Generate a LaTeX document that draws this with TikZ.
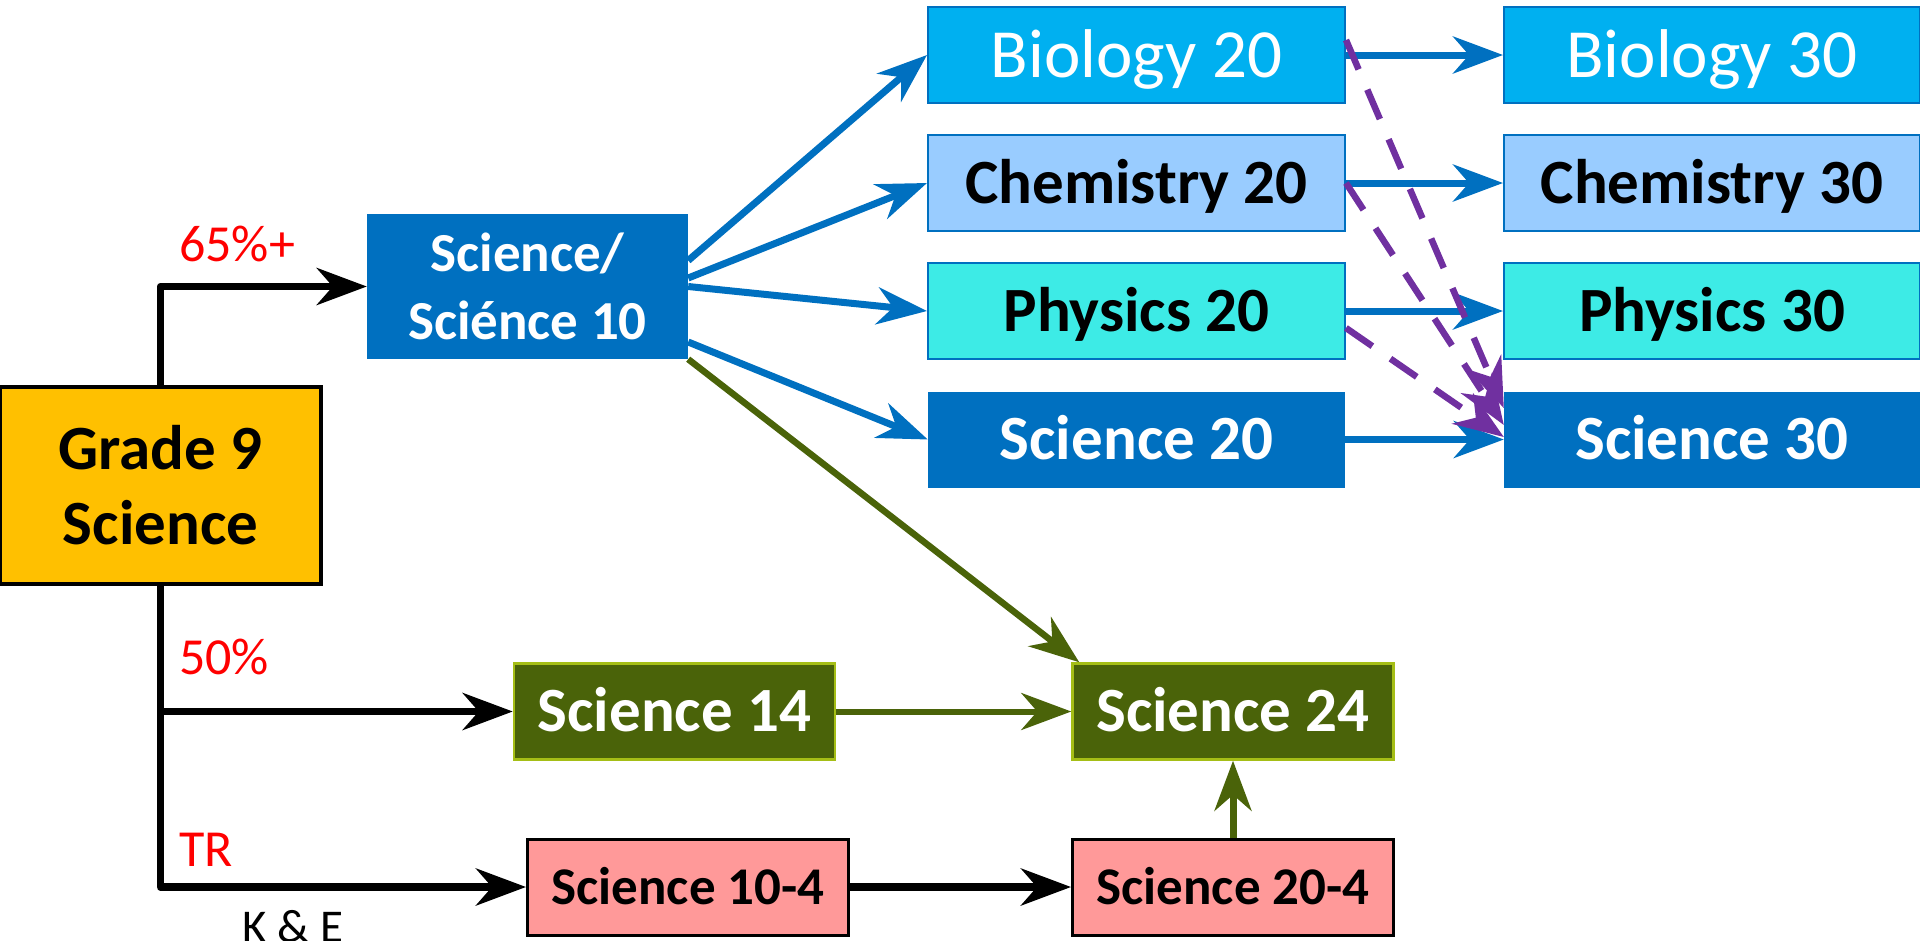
\documentclass[tikz,border=0pt]{standalone}
\usepackage{fontspec}
\setmainfont{Carlito}
\usetikzlibrary{arrows.meta}
\definecolor{gold}{HTML}{FFC000}
\definecolor{deepblue}{HTML}{0070C0}
\definecolor{skyblue}{HTML}{00B0F0}
\definecolor{paleblue}{HTML}{99CCFF}
\definecolor{aqua}{HTML}{3DEBE6}
\definecolor{olive}{HTML}{4A6309}
\definecolor{limeedge}{HTML}{A5BE16}
\definecolor{salmon}{HTML}{FF9999}
\definecolor{purp}{HTML}{7030A0}
\definecolor{lblred}{HTML}{FF0000}

\tikzset{
  >={Stealth[length=50pt,width=37pt,inset=16pt]},
  box/.style={inner sep=0pt, minimum width=321pt, minimum height=96pt, align=center},
  wide/.style={box, minimum width=417pt},
  bigtext/.style={font=\bfseries\fontsize{63}{75}\selectfont, text height=40.5pt, text depth=0pt},
  midtext/.style={font=\bfseries\fontsize{53}{64}\selectfont, text height=34pt, text depth=0pt},
  biotext/.style={font=\fontsize{69}{80}\selectfont, text height=44.5pt, text depth=0pt},
  rimmed/.style={draw=deepblue, line width=2pt},
  pathlbl/.style={font=\fontsize{52}{62}\selectfont, text=lblred, inner sep=0pt, anchor=west,
    text height=33pt, text depth=0pt},
  blackflow/.style={->, line width=7.5pt, line join=round},
  blueflow/.style={->, draw=deepblue, line width=7pt},
  greenflow/.style={->, draw=olive, line width=6.5pt},
  purpleflow/.style={->, draw=purp, line width=6.5pt, dash pattern=on 32pt off 22pt},
}

\begin{document}
\begin{tikzpicture}[x=1pt,y=-1pt]
  \useasboundingbox (0,0) rectangle (1920,940);

  % starting course
  \node[box, draw=black, line width=4pt, fill=gold, minimum height=197pt,
    font=\bfseries\fontsize{63}{75}\selectfont] (grade) at (160.5,485.5) {Grade 9\\Science};

  % stream 1
  \node[box, fill=deepblue, text=white, minimum height=145pt,
    font=\bfseries\fontsize{55}{68}\selectfont] (sci10) at (527.5,286.5) {Science/\\Sciénce 10};
  \node[wide, rimmed, fill=skyblue, text=white, biotext] (bio20) at (1136.5,55) {Biology 20};
  \node[wide, rimmed, fill=paleblue, bigtext] (chem20) at (1136.5,183) {Chemistry 20};
  \node[wide, rimmed, fill=aqua, bigtext] (phys20) at (1136.5,311) {Physics 20};
  \node[wide, fill=deepblue, text=white, bigtext] (sci20) at (1136.5,439.5) {Science 20};
  \node[wide, rimmed, fill=skyblue, text=white, biotext, minimum width=416pt] (bio30) at (1712,55) {Biology 30};
  \node[wide, rimmed, fill=paleblue, bigtext, minimum width=416pt] (chem30) at (1712,183) {Chemistry 30};
  \node[wide, rimmed, fill=aqua, bigtext, minimum width=416pt] (phys30) at (1712,311) {Physics 30};
  \node[wide, fill=deepblue, text=white, bigtext, minimum width=416pt] (sci30) at (1712,439.5) {Science 30};

  % stream 2
  \node[box, draw=limeedge, line width=2.5pt, fill=olive, text=white, bigtext] (sci14) at (674.5,711.5) {Science 14};
  \node[box, draw=limeedge, line width=2.5pt, fill=olive, text=white, bigtext] (sci24) at (1233,711.5) {Science 24};

  % stream 3
  \node[box, draw=black, line width=3pt, fill=salmon, midtext] (sci104) at (688,887) {Science 10-4};
  \node[box, draw=black, line width=3pt, fill=salmon, midtext] (sci204) at (1233,887) {Science 20-4};

  % path labels
  \node[pathlbl] (lbl65) at (179,245) {65\%+};
  \node[pathlbl] (lbl50) at (179,658) {50\%};
  \node[pathlbl] (lbltr) at (179,849.5) {TR};
  \node[font=\fontsize{47}{56}\selectfont, inner sep=0pt, text height=30pt, text depth=0pt] (lblke) at (293,927) {K \& E};

  % connectors from grade 9
  \draw[blackflow] (grade.north) |- (sci10.west);
  \draw[blackflow] (grade.south) |- (sci104.west);
  \draw[blackflow] (grade.south |- sci14.west) -- (sci14.west);

  \foreach \t/\s in {bio20/26, chem20/8.5, phys20/0, sci20/-55.5}
    {\draw[blueflow] ([yshift=\s pt]sci10.east) -- (\t.west);}
  \foreach \a/\b in {bio20/bio30, chem20/chem30, phys20/phys30, sci20/sci30}
    {\draw[blueflow] (\a) -- (\b);}
  \foreach \a/\s/\e in {bio20/15/31.5, chem20/0/14.5, phys20/-17/2.5}
    {\draw[purpleflow] ([yshift=\s pt]\a.east) -- ([yshift=\e pt]sci30.west);}

  \draw[greenflow] (sci10.south east) -- ([xshift=8pt]sci24.north west);
  \draw[greenflow, line width=6pt] (sci14) -- (sci24);
  \draw[greenflow, line width=7pt] (sci204) -- (sci24);
  \draw[blackflow] (sci104) -- (sci204);
\end{tikzpicture}
\end{document}
